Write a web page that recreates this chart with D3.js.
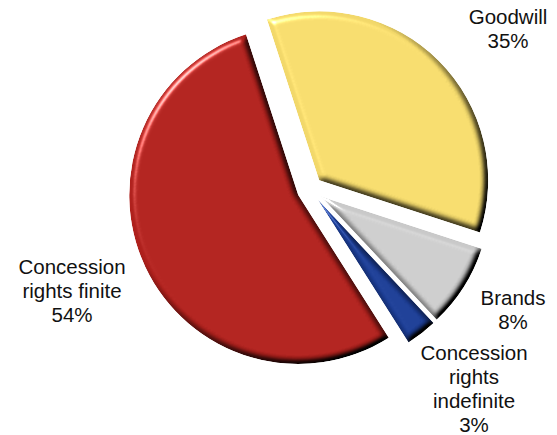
<!DOCTYPE html>
<html>
<head>
<meta charset="utf-8">
<script src="https://cdn.jsdelivr.net/npm/d3@7/dist/d3.min.js"></script>
<style>
  html, body { margin: 0; padding: 0; background: #fff; }
  svg { display: block; }
  text { font-family: "Liberation Sans", Arial, sans-serif; font-size: 20.5px; fill: #111; }
</style>
</head>
<body>
<svg id="chart" width="557" height="435"></svg>
<script>
// Share of intangible assets by type
const categories = ["Goodwill", "Brands", "Concession rights indefinite", "Concession rights finite"];
const values = [35, 8, 3, 54];
const labelLines = [["Goodwill"], ["Brands"], ["Concession", "rights", "indefinite"], ["Concession", "rights finite"]];
const colors = ["#F2D86A", "#C9C9C9", "#1B3C93", "#AE201C"];

const W = 557, H = 435;
const cx = 310, cy = 189.5, radius = 169, explode = 13;
const startDeg = -18;

const svg = d3.select("#chart");

// Rounded-edge bevel: blurred alpha used as a height map, lit from the top left
const defs = svg.append("defs");
const f = defs.append("filter").attr("id", "bevel")
  .attr("x", "-5%").attr("y", "-5%").attr("width", "110%").attr("height", "110%")
  .attr("color-interpolation-filters", "sRGB");
f.append("feGaussianBlur").attr("in", "SourceAlpha").attr("stdDeviation", 3.2).attr("result", "blur");
f.append("feDiffuseLighting").attr("in", "blur").attr("surfaceScale", 5)
  .attr("diffuseConstant", 1.414).attr("lighting-color", "#fff").attr("result", "diff")
  .append("feDistantLight").attr("azimuth", 225).attr("elevation", 45);
f.append("feComposite").attr("in", "diff").attr("in2", "SourceGraphic")
  .attr("operator", "arithmetic").attr("k1", 1).attr("k2", 0).attr("k3", 0).attr("k4", 0)
  .attr("result", "shaded");
f.append("feSpecularLighting").attr("in", "blur").attr("surfaceScale", 5)
  .attr("specularConstant", 0.7).attr("specularExponent", 28).attr("lighting-color", "#fff")
  .attr("result", "spec")
  .append("feDistantLight").attr("azimuth", 225).attr("elevation", 35);
f.append("feComposite").attr("in", "spec").attr("in2", "SourceAlpha").attr("operator", "in").attr("result", "specIn");
f.append("feComposite").attr("in", "shaded").attr("in2", "specIn")
  .attr("operator", "arithmetic").attr("k1", 0).attr("k2", 1).attr("k3", 1).attr("k4", 0)
  .attr("result", "lit");
f.append("feComposite").attr("in", "lit").attr("in2", "SourceAlpha").attr("operator", "in");

const pie = d3.pie().sort(null).value(d => d)
  .startAngle(startDeg * Math.PI / 180)
  .endAngle(startDeg * Math.PI / 180 + 2 * Math.PI);
const arc = d3.arc().innerRadius(0).outerRadius(radius);

const arcs = pie(values);

const g = svg.append("g").attr("transform", `translate(${cx},${cy})`);
g.selectAll("path.slice")
  .data(arcs)
  .join("path")
  .attr("class", "slice")
  .attr("d", arc)
  .attr("fill", (d, i) => colors[i])
  .attr("filter", "url(#bevel)")
  .attr("transform", d => {
    const mid = (d.startAngle + d.endAngle) / 2;
    return `translate(${explode * Math.sin(mid)},${-explode * Math.cos(mid)})`;
  });

// Label anchors (centre x, first baseline y) for each category
const labelPos = [[508, 24], [513, 305], [474, 360], [72, 274]];
const lineH = 24;

svg.selectAll("text.lbl")
  .data(arcs)
  .join("text")
  .attr("class", "lbl")
  .attr("text-anchor", "middle")
  .each(function (d, i) {
    const t = d3.select(this);
    const lines = labelLines[i].concat([d3.format(".0f")(d.data) + "%"]);
    lines.forEach((ln, k) => {
      t.append("tspan")
        .attr("x", labelPos[i][0])
        .attr("y", labelPos[i][1] + k * lineH)
        .text(ln);
    });
  });
</script>
</body>
</html>
